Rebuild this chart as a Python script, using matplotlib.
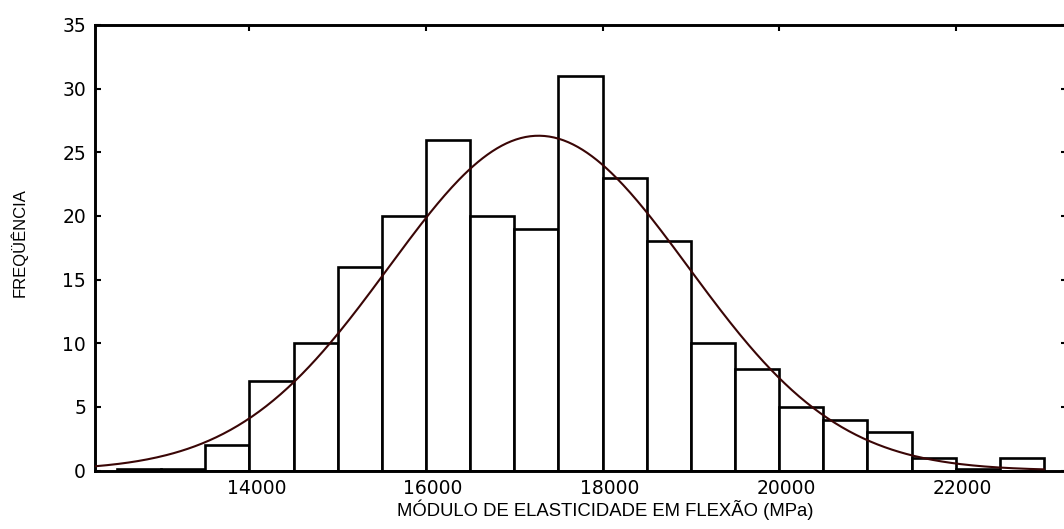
import numpy as np
import matplotlib
matplotlib.use('Agg')
import matplotlib.pyplot as plt
import matplotlib.transforms as mtransforms

# histogram bins (lower edges) and counts
bin_start = [12500, 13000, 13500, 14000, 14500, 15000, 15500, 16000, 16500, 17000, 17500,
             18000, 18500, 19000, 19500, 20000, 20500, 21000, 21500, 22000, 22500]
counts = [0, 0, 2, 7, 10, 16, 20, 26, 20, 19, 31, 23, 18, 10, 8, 5, 4, 3, 1, 0, 1]
bin_width = 500

x_ticks = [14000, 16000, 18000, 20000, 22000]
y_ticks = [0, 5, 10, 15, 20, 25, 30, 35]

bin_start = np.array(bin_start)
counts = np.array(counts)

# normal fit from the binned data
mids = bin_start + bin_width / 2
n = counts.sum()
mu = np.average(mids, weights=counts)
sd = np.sqrt(np.sum(counts * (mids - mu) ** 2) / (n - 1))
xs = np.linspace(12250, 23000, 400)
fit = n * bin_width / (sd * np.sqrt(2 * np.pi)) * np.exp(-0.5 * ((xs - mu) / sd) ** 2)

fig = plt.figure(figsize=(10.64, 5.29), dpi=100)
ax = fig.add_axes([95 / 1064, 58.5 / 529, 972 / 1064, 445.5 / 529])

# empty bins are drawn as a thin sliver like in the original
ax.bar(bin_start, np.maximum(counts, 0.15), width=bin_width, align='edge',
       facecolor='white', edgecolor='black', linewidth=1.9, zorder=2)
ax.plot(xs, fit, color='#3a0606', linewidth=1.5, zorder=3)

ax.set_xlim(12250, 23260)
ax.set_ylim(0, 35)
ax.set_xticks(x_ticks)
ax.set_yticks(y_ticks)

for side in ['left', 'top', 'bottom']:
    ax.spines[side].set_linewidth(2.1)
ax.spines['right'].set_visible(False)

ax.tick_params(direction='in', length=4.5, width=1.5, top=True, right=True, colors='black')
ax.tick_params(axis='x', labelsize=13.5, pad=6)
ax.tick_params(axis='y', labelsize=13.5, pad=6.5)

# x tick labels sit a little right of their ticks in the original
shift = mtransforms.ScaledTranslation(7 / 100, 0, fig.dpi_scale_trans)
for lab in ax.get_xticklabels():
    lab.set_transform(lab.get_transform() + shift)

ax.set_xlabel('MÓDULO DE ELASTICIDADE EM FLEXÃO (MPa)', fontsize=13.3, family='Liberation Sans')
ax.xaxis.label.set_va('baseline')
ax.xaxis.set_label_coords(0.5247, -0.1021)
ax.set_ylabel('FREQÜÊNCIA', fontsize=12, family='Liberation Sans')
ax.yaxis.label.set_va('center')
ax.yaxis.set_label_coords(-0.0782, 0.5107)

fig.savefig('out.png', dpi=100)
